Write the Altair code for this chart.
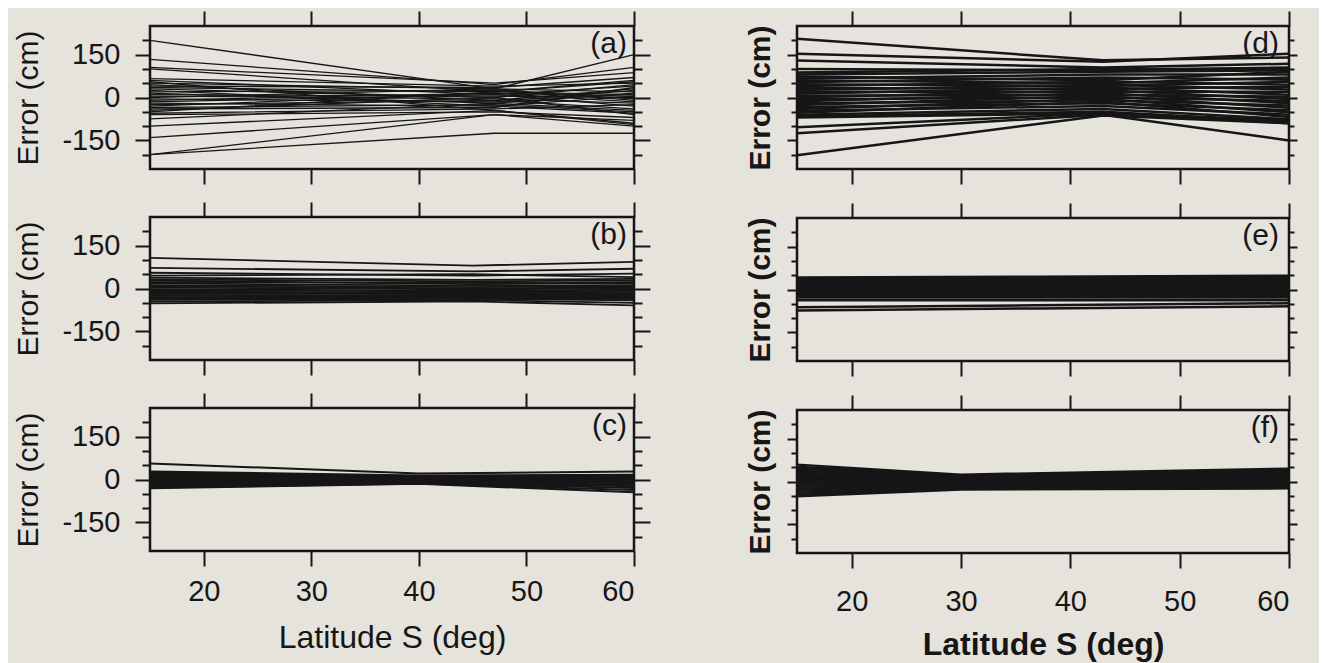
import altair as alt
import pandas as pd

INK = "#161616"
BG = "#e6e2dc"
FONT = "Liberation Sans"

X_TICKS = [20, 30, 40, 50, 60]
Y_TICKS = [-200, -150, -100, -50, 0, 50, 100, 150, 200]
Y_LABELLED = [-150, 0, 150]

# panel (a)
A_LAT = [15, 47, 60]
A_START = [200, 133, 105, 100, 66, 60, 55, 50, 45, 40, 35, 30, 25, 20, 15, 10, 5, 0, -5, -10, -15, -20, -25, -30, -35, -40, -45, -50, -55, -60, -75, -100, -140, -200, -200]
A_MID = [30, 45, 50, 20, 40, 10, -45, 30, -10, 35, 20, 0, -30, 25, -20, 5, -5, 30, -15, 15, 10, -30, -10, 15, -25, -35, 0, 20, -40, -50, -20, -45, -60, -60, -125]
A_END = [150, 105, 87, 60, 50, 40, -90, 20, 30, 70, 10, 45, -55, -5, 15, 0, -20, -10, 25, 5, -30, 5, -40, -15, -50, 35, -60, 55, -25, -70, -45, -95, -100, -80, -125]

# panel (b)
B_LAT = [15, 45, 60]
B_START = [107, 72, 55, 45, 38, 32, 28, 22, 18, 12, 8, 3, -2, -6, -10, -14, -18, -22, -26, -30, -35, -40, -46, -52]
B_MID = [80, 60, 45, 50, 30, 25, 15, 20, 10, 5, 0, -3, -8, -10, -15, -18, -20, -25, -28, -30, -33, -36, -40, -45]
B_END = [93, 69, 52, 40, 34, 28, 22, 18, 12, 8, 4, 0, -4, -8, -12, -16, -20, -24, -28, -32, -36, -41, -50, -59]

# panel (c)
C_LAT = [15, 40, 60]
C_START = [56, 28, 24, 20, 16, 12, 8, 4, 0, -4, -8, -12, -16, -20, -24, -28, -31]
C_MID = [21, 14, 12, 10, 8, 6, 4, 2, 0, -2, -4, -6, -8, -10, -12, -14, -15]
C_END = [28, 17, 14, 12, 10, 7, 4, 1, -2, -5, -9, -13, -18, -24, -30, -37, -45]

# panel (d)
D_LAT = [15, 43, 60]
D_START = [205, 153, 129, 100, 87, 80, 73, 66, 60, 53, 46, 40, 33, 26, 20, 13, 6, 0, -6, -13, -20, -26, -33, -40, -46, -53, -60, -66, -70, -104, -125, -202]
D_MID = [130, 125, 105, 95, 100, 90, 60, 80, 50, 70, 40, 55, 30, 45, 20, 35, 10, 25, 0, 15, -10, 5, -20, -5, -30, -15, -40, -50, -55, -55, -60, -63]
D_END = [140, 153, 118, 105, 100, 95, 90, 80, 70, 62, 55, 45, 38, 28, 20, 10, 3, -5, -12, -20, -28, -36, -44, -52, -60, -68, -76, -84, -90, -80, -150, -90]

# panel (e)
E_LAT = [15, 37, 60]
E_START = [42, 37, 32, 27, 22, 17, 12, 7, 2, -3, -8, -13, -18, -23, -28, -38, -62, -73]
E_MID = [45, 40, 35, 30, 25, 20, 15, 10, 5, 0, -6, -11, -17, -22, -28, -38, -55, -66]
E_END = [48, 43, 38, 33, 28, 23, 18, 13, 8, 2, -4, -10, -16, -22, -28, -38, -48, -59]

# panel (f)
F_LAT = [15, 30, 60]
F_START = [59, 52, 45, 38, 31, 24, 17, 10, 3, -4, -11, -18, -25, -32, -39, -46, -52]
F_MID = [24, 21, 18, 15, 12, 9, 6, 3, 0, -3, -7, -10, -14, -17, -21, -25, -28]
F_END = [45, 40, 35, 30, 25, 20, 15, 10, 5, 0, -4, -8, -12, -16, -20, -22, -24]


def make_df(lats, starts, mids, ends):
    rows = []
    for i, vals in enumerate(zip(starts, mids, ends)):
        for lat, v in zip(lats, vals):
            rows.append({"line": i, "lat": lat, "err": v})
    return pd.DataFrame(rows)


MAJOR_TEST = "indexof([" + ",".join(str(v) for v in Y_LABELLED) + "], datum.value) >= 0"
LABEL_EXPR = MAJOR_TEST + " ? '' + datum.value : ''"

X_SCALE = alt.Scale(domain=[15, 60], nice=False, zero=False)
Y_SCALE = alt.Scale(domain=[-250, 250], nice=False, zero=False)


def panel(df, label, width, stroke, left_col, bottom):
    weight = "normal" if left_col else "bold"
    x_kw = dict(orient="bottom", values=X_TICKS, tickSize=15, tickWidth=2, tickColor=INK,
                domain=False, grid=False, labels=bottom, labelFontSize=29, labelFont=FONT,
                labelColor=INK, labelPadding=(11 if left_col else 19), titleFontSize=32, titleFont=FONT,
                titleColor=INK, titleFontWeight=weight, titlePadding=(16 if left_col else 13))
    y_kw = dict(orient="left", values=Y_TICKS, tickWidth=2, tickColor=INK, domain=False, grid=False,
                tickSize={"condition": {"test": MAJOR_TEST, "value": 15 if left_col else 10},
                          "value": 8 if left_col else 6},
                labels=left_col, labelFontSize=29, labelFont=FONT, labelColor=INK,
                labelPadding=15, titleFontSize=30, titleFont=FONT, titleColor=INK,
                titleFontWeight=weight, titlePadding=(18 if left_col else 11))
    if left_col:
        y_kw["labelExpr"] = LABEL_EXPR
    base = alt.Chart(df)
    lines = base.mark_line(color=INK, strokeWidth=stroke).encode(
        x=alt.X("lat:Q", scale=X_SCALE, axis=alt.Axis(**x_kw),
                title=("Latitude S (deg)" if bottom else None)),
        y=alt.Y("err:Q", scale=Y_SCALE, axis=alt.Axis(**y_kw), title="Error (cm)"),
        detail="line:N",
    )
    twin = base.mark_line(opacity=0).encode(
        x=alt.X("lat:Q", scale=X_SCALE, title=None,
                axis=alt.Axis(orient="top", values=X_TICKS, tickSize=15, tickWidth=2,
                              tickColor=INK, domain=False, grid=False, labels=False)),
        y=alt.Y("err:Q", scale=Y_SCALE, title=None,
                axis=alt.Axis(orient="right", values=Y_TICKS, tickWidth=2, tickColor=INK,
                              domain=False, grid=False, labels=False,
                              tickSize={"condition": {"test": MAJOR_TEST, "value": 16 if left_col else 8},
                                        "value": 8 if left_col else 5})),
        detail="line:N",
    )
    text = alt.Chart(pd.DataFrame({"label": [label]})).mark_text(
        align="right", baseline="middle", fontSize=30, font=FONT, color=INK
    ).encode(
        text="label:N",
        x=alt.value(width - (7 if left_col else 10)),
        y=alt.value(18),
    )
    return alt.layer(lines, twin, text).resolve_axis(x="independent", y="independent").properties(
        width=width, height=143
    )


pa = panel(make_df(A_LAT, A_START, A_MID, A_END), "(a)", 484, 1.3, True, False)
pb = panel(make_df(B_LAT, B_START, B_MID, B_END), "(b)", 484, 1.8, True, False)
pc = panel(make_df(C_LAT, C_START, C_MID, C_END), "(c)", 484, 2.0, True, True)
pd_ = panel(make_df(D_LAT, D_START, D_MID, D_END), "(d)", 492, 2.5, False, False)
pe = panel(make_df(E_LAT, E_START, E_MID, E_END), "(e)", 492, 2.5, False, False)
pf = panel(make_df(F_LAT, F_START, F_MID, F_END), "(f)", 492, 2.5, False, True)

left = alt.vconcat(pa, pb, pc, spacing=12)
right = alt.vconcat(pd_, pe, pf, spacing=13)

chart = alt.hconcat(left, right, spacing=90).properties(
    padding={"left": 4, "top": 0, "right": 19, "bottom": 4},
    background=BG,
).configure_view(stroke=INK, strokeWidth=2.5, fill=BG)

chart.save("out.html", embed_options={"renderer": "svg", "actions": False})
